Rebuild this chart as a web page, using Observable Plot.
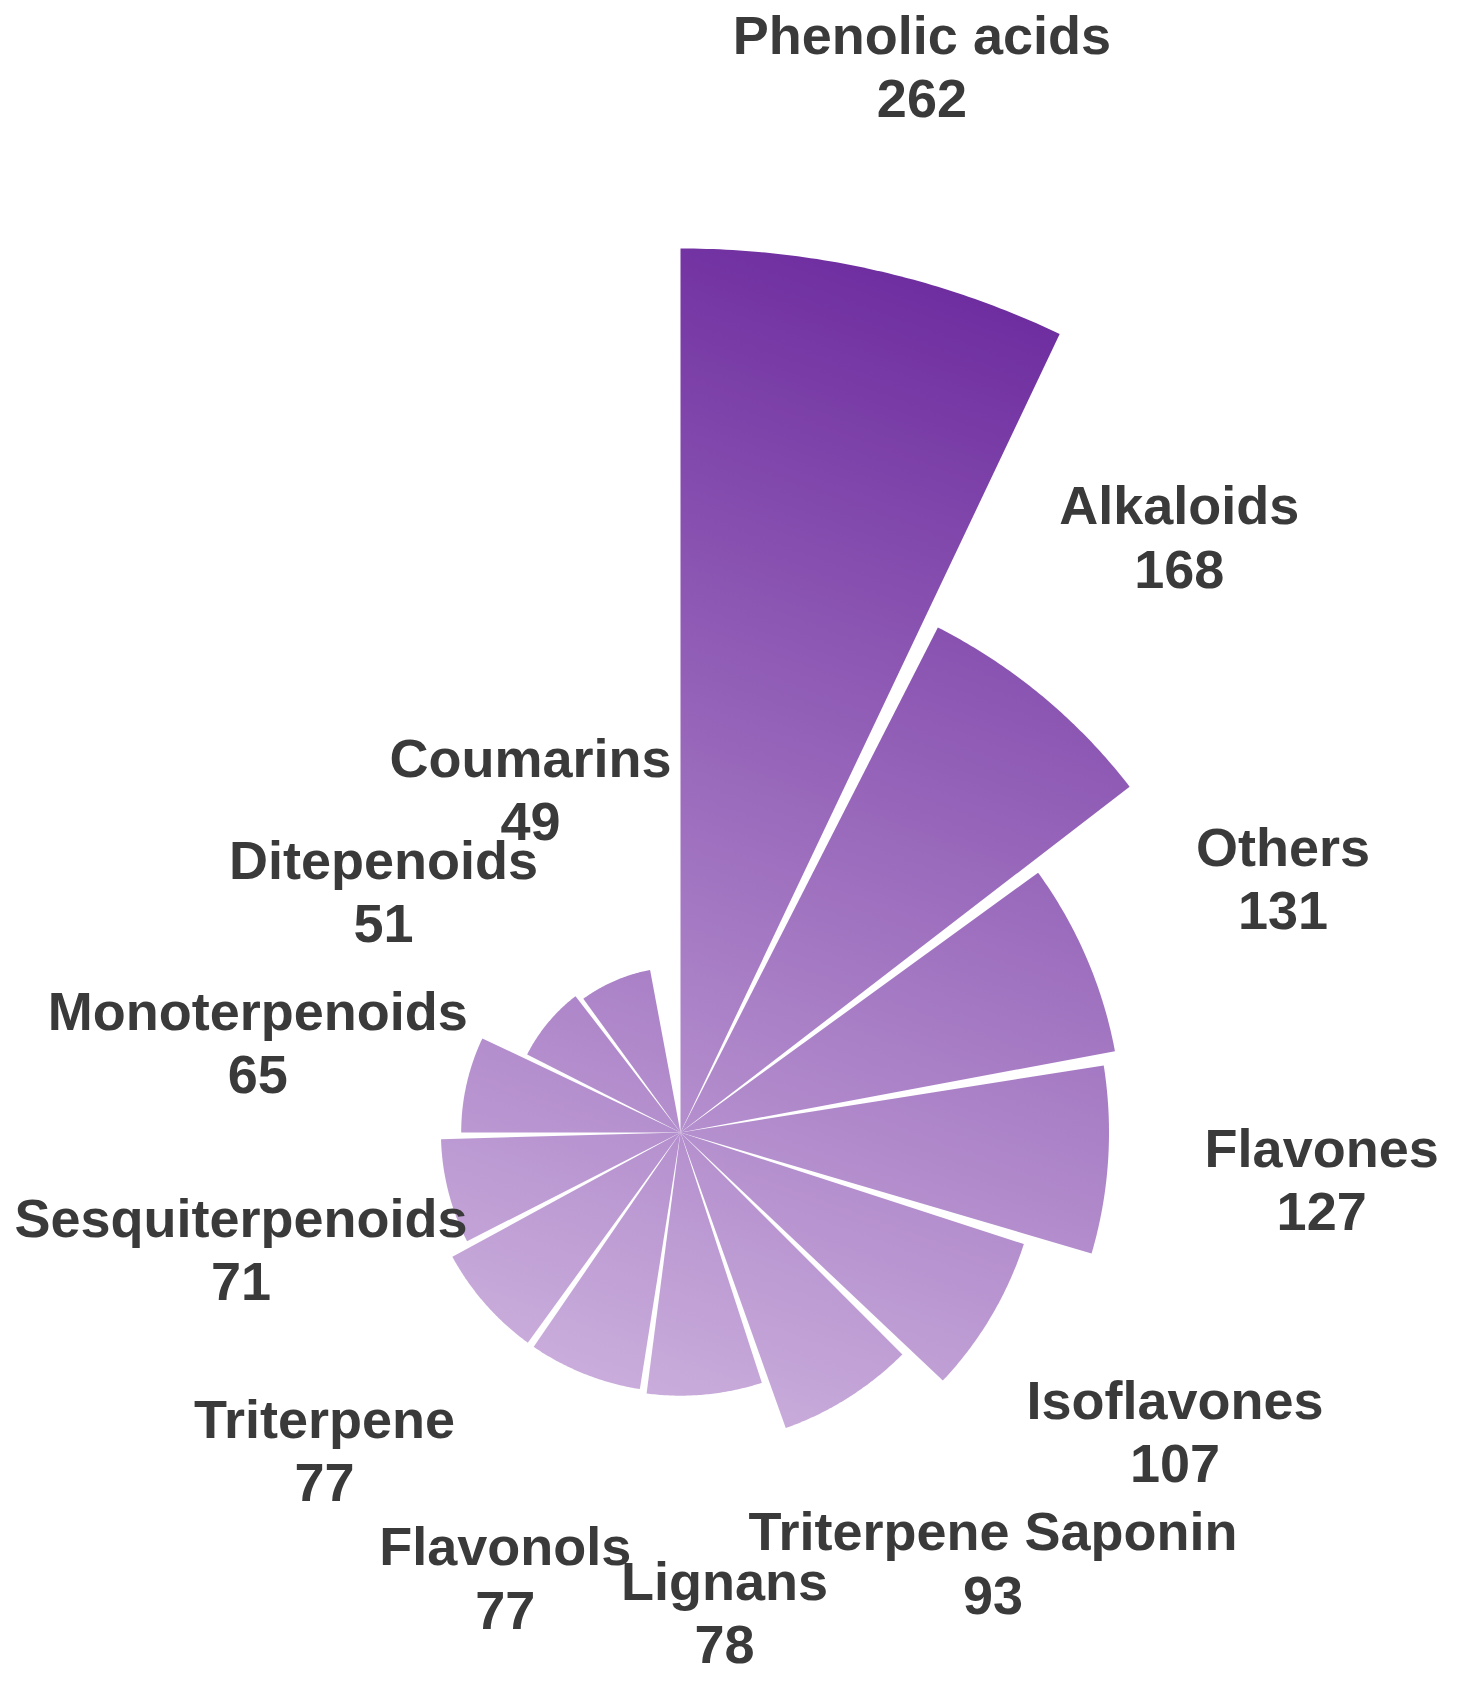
<!DOCTYPE html>
<html>
<head>
<meta charset="utf-8">
<script src="https://cdn.jsdelivr.net/npm/d3@7"></script>
<script src="https://cdn.jsdelivr.net/npm/@observablehq/plot@0.6"></script>
<style>
  html, body { margin: 0; padding: 0; background: #ffffff; }
  #chart svg { display: block; }
</style>
</head>
<body>
<div id="chart"></div>
<script>
// ---- data ----
const categories = ["Phenolic acids", "Alkaloids", "Others", "Flavones", "Isoflavones", "Triterpene Saponin", "Lignans", "Flavonols", "Triterpene", "Sesquiterpenoids", "Monoterpenoids", "Ditepenoids", "Coumarins"];
const values = [262, 168, 131, 127, 107, 93, 78, 77, 77, 71, 65, 51, 49];

// ---- layout (not data) ----
const W = 1462, H = 1695;
const CX = 680, CY = 1132;          // centre of the rose in pixels
const PX_PER_UNIT = 884 / 262;       // radial scale
const STEP = 27;                     // degrees per category
const BAR = 25.4;                    // angular width of a wedge (degrees)
const LABEL_OFFSET = 214 / PX_PER_UNIT;
const LABEL_DY = 4 / PX_PER_UNIT;    // small downward nudge of all labels
const LABEL_ANGLE_NUDGE = [0, 0, 0, 0, 0, -4, 0, 0, 0, 0, 0, 0, 0];
const SAMPLES = 60;

const rad = d => d * Math.PI / 180;

// wedge outlines (polar -> cartesian, clockwise from 12 o'clock)
const wedgePoints = [];
categories.forEach((name, i) => {
  const v = values[i];
  const a0 = i * STEP, a1 = i * STEP + BAR;
  wedgePoints.push({name, x: 0, y: 0});
  for (let k = 0; k <= SAMPLES; k++) {
    const a = rad(a0 + (a1 - a0) * k / SAMPLES);
    wedgePoints.push({name, x: v * Math.sin(a), y: v * Math.cos(a)});
  }
});

const labels = categories.map((name, i) => {
  const a = rad(i * STEP + BAR / 2 + LABEL_ANGLE_NUDGE[i]);
  const r = values[i] + LABEL_OFFSET;
  return {text: name + "\n" + values[i], x: r * Math.sin(a), y: r * Math.cos(a) - LABEL_DY};
});

const chart = Plot.plot({
  width: W,
  height: H,
  margin: 0,
  x: {domain: [-CX / PX_PER_UNIT, (W - CX) / PX_PER_UNIT], axis: null},
  y: {domain: [-(H - CY) / PX_PER_UNIT, CY / PX_PER_UNIT], axis: null},
  style: {background: "#ffffff", fontFamily: "'Liberation Sans', Arial, Helvetica, sans-serif"},
  marks: [
    Plot.line(wedgePoints, {x: "x", y: "y", z: "name", fill: "url(#rose-grad)", stroke: "none", curve: "linear-closed"}),
    Plot.text(labels, {x: "x", y: "y", text: "text", fontSize: 54, fontWeight: "bold", fill: "#3a3a3a", lineHeight: 1.17})
  ]
});

// gradient: dark purple at top-right to light lilac at bottom
const defs = d3.select(chart).insert("defs", ":first-child");
const grad = defs.append("linearGradient")
  .attr("id", "rose-grad")
  .attr("gradientUnits", "userSpaceOnUse")
  .attr("x1", 1066).attr("y1", 333)
  .attr("x2", 677).attr("y2", 1402);
grad.append("stop").attr("offset", 0).attr("stop-color", "#6f2ea0");
grad.append("stop").attr("offset", 1).attr("stop-color", "#c9acdb");

document.getElementById("chart").appendChild(chart);
</script>
</body>
</html>
